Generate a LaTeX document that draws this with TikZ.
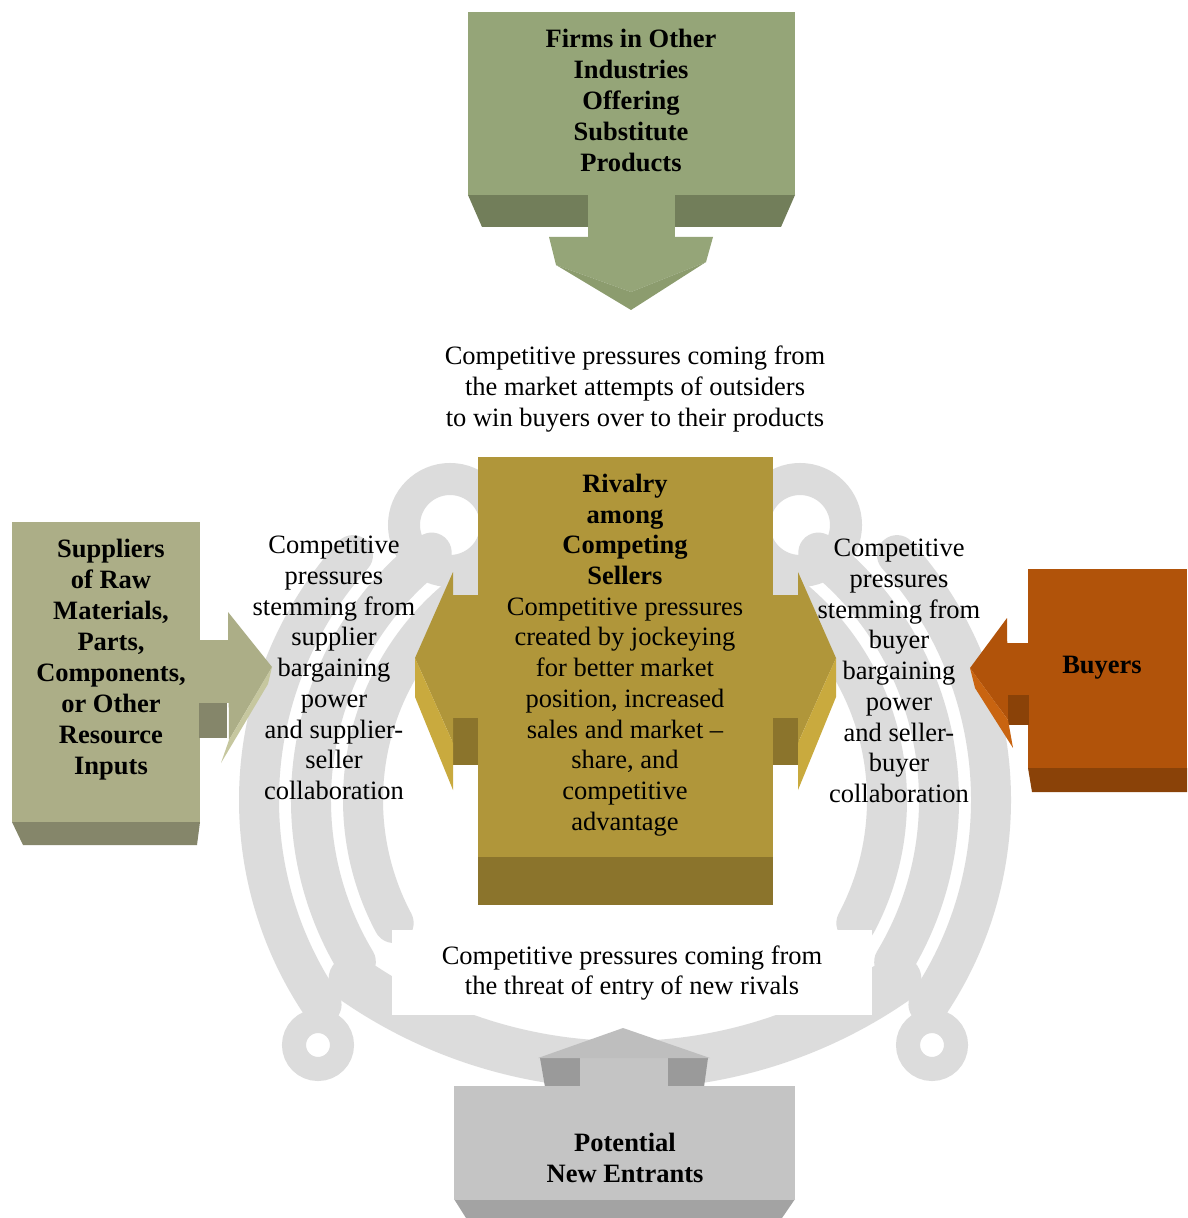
\documentclass[tikz,border=0pt]{standalone}
\usepackage{fontspec}
\setmainfont{Liberation Serif}

% face colours of the five blocks
\definecolor{subsFront}{HTML}{95A578}
\definecolor{subsDark}{HTML}{727E5A}
\definecolor{subsHead}{HTML}{8C9C6E}
\definecolor{suppFront}{HTML}{ACAE87}
\definecolor{suppDark}{HTML}{85866A}
\definecolor{suppLight}{HTML}{C6C79F}
\definecolor{rivFront}{HTML}{B0963A}
\definecolor{rivDark}{HTML}{8B742C}
\definecolor{rivLight}{HTML}{C9AA3E}
\definecolor{buyFront}{HTML}{B1530A}
\definecolor{buyDark}{HTML}{8A4208}
\definecolor{buyLight}{HTML}{C96410}
\definecolor{entFront}{HTML}{C4C4C4}
\definecolor{entDark}{HTML}{A3A3A3}
\definecolor{entSide}{HTML}{9A9A9A}
\definecolor{entRoof}{HTML}{BEBEBE}
\definecolor{wmark}{HTML}{DCDCDC}

\begin{document}
\begin{tikzpicture}[x=0.5pt,y=-0.5pt,
  every node/.style={font=\fontsize{13.25}{15.35}\selectfont, align=center, inner sep=0pt},
  title/.style={font=\fontsize{13.25}{15.5}\selectfont\bfseries},
  wm/.style={draw=wmark, line width=20pt, line cap=round}]

\useasboundingbox[fill=white] (0,0) rectangle (1187,1218);

% ---- faint emblem in the background ----
\foreach \r/\a/\b in {366/146/222, 314/149/232, 262/152/244}{
  \draw[wm] (625,800) ++(\a:\r) arc[start angle=\a, end angle=\b, radius=\r];
  \draw[wm] (625,800) ++(180-\a:\r) arc[start angle=180-\a, end angle=180-\b, radius=\r];
}
\draw[wm, line width=24pt] (625,590) ++(55:475) arc[start angle=55, end angle=125, radius=475];
\draw[wm, line width=16pt] (450,525) circle[radius=46];
\draw[wm, line width=16pt] (800,525) circle[radius=46];
\draw[wm, line width=12pt] (318,1045) circle[radius=24];
\draw[wm, line width=12pt] (932,1045) circle[radius=24];
\fill[white] (392,930) rectangle (872,1015);

% ---- substitutes (top) ----
\fill[subsDark] (468,195) -- (795,195) -- (781,227) -- (482,227) -- cycle;
\fill[subsFront] (468,12) rectangle (795,195);
\fill[subsFront] (588,194) rectangle (675,240);
\fill[subsFront] (549,237) -- (713,237) -- (706,262) -- (631,292) -- (556,265) -- cycle;
\fill[subsHead] (556,265) -- (631,292) -- (706,262) -- (631,310) -- cycle;
\node[title] (subs) at (631,100) {Firms in Other\\Industries\\Offering\\Substitute\\Products};
\node (capTop) at (635,389) {Competitive pressures coming from\\the market attempts of outsiders\\to win buyers over to their products};

% ---- rivalry (centre) with its two arrows ----
\fill[rivDark] (452,718) rectangle (479,765);
\fill[rivFront] (452,595) rectangle (479,718);
\fill[rivFront] (453,572) -- (415,658) -- (453,743) -- cycle;
\fill[rivLight] (415,658) -- (415,697) -- (453,790) -- (453,743) -- cycle;
\fill[rivDark] (772,718) rectangle (799,765);
\fill[rivFront] (772,595) rectangle (799,718);
\fill[rivFront] (798,572) -- (836,658) -- (798,743) -- cycle;
\fill[rivLight] (836,658) -- (836,697) -- (798,790) -- (798,743) -- cycle;
\fill[rivDark] (478,857) rectangle (773,905);
\fill[rivFront] (478,457) rectangle (773,857);
\node (rivalry) at (625,655) {\textbf{Rivalry}\\\textbf{among}\\\textbf{Competing}\\\textbf{Sellers}\\Competitive pressures\\created by jockeying\\for better market\\position, increased\\sales and market --\\share, and\\competitive\\advantage};

% ---- suppliers (left) ----
\fill[suppDark] (12,822) -- (200,822) -- (197,845) -- (23,845) -- cycle;
\fill[suppFront] (12,522) rectangle (200,822);
\fill[suppDark] (199,703) rectangle (227,738);
\fill[suppFront] (199,640) rectangle (230,703);
\fill[suppFront] (228,612) -- (272,667) -- (229,740) -- cycle;
\fill[suppLight] (272,667) -- (268,684) -- (221,763) -- (229,740) -- cycle;
\node[title] (suppliers) at (111,660) {Suppliers\\of Raw\\Materials,\\Parts,\\Components,\\or Other\\Resource\\Inputs};
\node (capLeft) at (334,668) {Competitive\\pressures\\stemming from\\supplier\\bargaining\\power\\and supplier-\\seller\\collaboration};

% ---- buyers (right) ----
\fill[buyDark] (1028,768) -- (1187,768) -- (1187,792) -- (1032,792) -- cycle;
\fill[buyFront] (1028,569) rectangle (1187,768);
\fill[buyDark] (1008,695) rectangle (1029,725);
\fill[buyFront] (1007,643) rectangle (1029,695);
\fill[buyFront] (1007,618) -- (970,668) -- (1008,720) -- cycle;
\fill[buyLight] (970,668) -- (975,688) -- (1013,748) -- (1008,720) -- cycle;
\node[title] (buyers) at (1102,668) {Buyers};
\node (capRight) at (899,671) {Competitive\\pressures\\stemming from\\buyer\\bargaining\\power\\and seller-\\buyer\\collaboration};

% ---- new entrants (bottom) ----
\node (capBottom) at (632,973) {Competitive pressures coming from\\the threat of entry of new rivals};
\fill[entDark] (454,1199) -- (795,1199) -- (782,1218) -- (466,1218) -- cycle;
\fill[entSide] (540,1058) -- (580,1058) -- (580,1087) -- (545,1087) -- cycle;
\fill[entSide] (668,1058) -- (708,1058) -- (704,1087) -- (668,1087) -- cycle;
\fill[entFront] (580,1057) rectangle (668,1087);
\fill[entRoof] (538,1058) -- (623,1028) -- (710,1058) -- cycle;
\fill[entFront] (454,1086) rectangle (795,1200);
\node[title] (entrants) at (625,1158) {Potential\\New Entrants};
\end{tikzpicture}
\end{document}
